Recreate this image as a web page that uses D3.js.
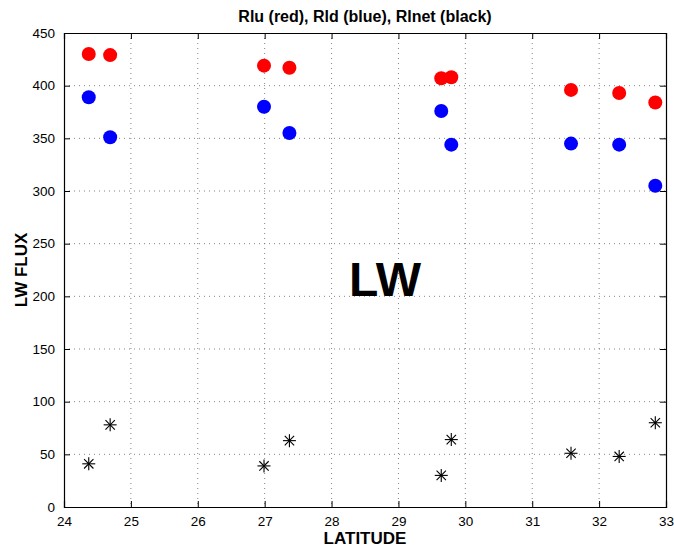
<!DOCTYPE html>
<html><head><meta charset="utf-8">
<script src="https://cdn.jsdelivr.net/npm/d3@7"></script>
<style>body{margin:0;background:#fff}svg{display:block;font-family:"Liberation Sans",Arial,Helvetica,sans-serif}</style>
</head><body><svg id="c" width="674" height="548"></svg>
<script>
const latitudes = [24.37, 24.69, 26.99, 27.37, 29.64, 29.79, 31.58, 32.30, 32.84];
const rlu = [430, 429, 419, 417, 407, 408, 396, 393, 384];
const rld = [389, 351, 380, 355, 376, 344, 345, 344, 305];
const rlnet = [41, 78, 39, 63, 30, 64, 51, 48, 80];
const xTicks = [24, 25, 26, 27, 28, 29, 30, 31, 32, 33];
const yTicks = [0, 50, 100, 150, 200, 250, 300, 350, 400, 450];

const svg = d3.select("#c");
const L = 64, R = 666, T = 33, B = 507;
const x = d3.scaleLinear().domain([24, 33]).range([L, R]);
const y = d3.scaleLinear().domain([0, 450]).range([B, T]);

// grid
const g = svg.append("g");
g.selectAll(".vx").data(xTicks.slice(1, -1)).enter().append("line")
  .attr("x1", d => x(d)).attr("x2", d => x(d)).attr("y1", T).attr("y2", B)
  .attr("stroke", "#666").attr("stroke-width", 0.8).attr("stroke-dasharray", "1,4");
g.selectAll(".hy").data(yTicks.slice(1, -1)).enter().append("line")
  .attr("y1", d => y(d)).attr("y2", d => y(d)).attr("x1", L).attr("x2", R)
  .attr("stroke", "#666").attr("stroke-width", 0.8).attr("stroke-dasharray", "1,4");

// axes
const ax = svg.append("g").attr("transform", `translate(0,${B})`)
  .call(d3.axisBottom(x).tickValues(xTicks).tickSize(-6).tickPadding(9).tickFormat(d3.format("d")));
const axT = svg.append("g").attr("transform", `translate(0,${T})`)
  .call(d3.axisTop(x).tickValues(xTicks).tickSize(-6).tickFormat(""));
const ay = svg.append("g").attr("transform", `translate(${L},0)`)
  .call(d3.axisLeft(y).tickValues(yTicks).tickSize(-6).tickPadding(9).tickFormat(d3.format("d")));
const ayR = svg.append("g").attr("transform", `translate(${R},0)`)
  .call(d3.axisRight(y).tickValues(yTicks).tickSize(-6).tickFormat(""));
[ax, axT, ay, ayR].forEach(a => {
  a.selectAll("path").attr("stroke", "#000").attr("stroke-width", 1.2);
  a.selectAll("line").attr("stroke", "#000");
  a.selectAll("text").attr("font-size", 13.5).attr("fill", "#000")
    .attr("font-family", '"Liberation Sans",Arial,sans-serif');
});
ay.selectAll("text").attr("dy", "0.32em");

// points
const idx = d3.range(latitudes.length);
svg.selectAll(".ru").data(idx).enter().append("circle")
  .attr("cx", i => x(latitudes[i])).attr("cy", i => y(rlu[i])).attr("r", 7).attr("fill", "#ff0000");
svg.selectAll(".rd").data(idx).enter().append("circle")
  .attr("cx", i => x(latitudes[i])).attr("cy", i => y(rld[i])).attr("r", 7).attr("fill", "#0000ff");
const star = svg.selectAll(".st").data(idx).enter().append("g")
  .attr("transform", i => `translate(${x(latitudes[i])},${y(rlnet[i])})`);
const s = 6.5;
[[0, -s, 0, s], [-s, 0, s, 0], [-s*0.72, -s*0.72, s*0.72, s*0.72], [-s*0.72, s*0.72, s*0.72, -s*0.72]].forEach(c => {
  star.append("line").attr("x1", c[0]).attr("y1", c[1]).attr("x2", c[2]).attr("y2", c[3])
    .attr("stroke", "#000").attr("stroke-width", 1.1);
});

// texts
svg.append("text").attr("x", (L + R) / 2).attr("y", 22).attr("text-anchor", "middle")
  .attr("font-weight", "bold").attr("font-size", 16).text("Rlu (red), Rld (blue), Rlnet (black)");
svg.append("text").attr("x", (L + R) / 2).attr("y", 544).attr("text-anchor", "middle")
  .attr("font-weight", "bold").attr("font-size", 17).text("LATITUDE");
svg.append("text").attr("transform", `translate(27,${(T + B) / 2}) rotate(-90)`).attr("text-anchor", "middle")
  .attr("font-weight", "bold").attr("font-size", 17).text("LW FLUX");
svg.append("text").attr("x", x(28.8)).attr("y", y(200)).attr("text-anchor", "middle")
  .attr("font-weight", "bold").attr("font-size", 48).text("LW");
</script></body></html>
